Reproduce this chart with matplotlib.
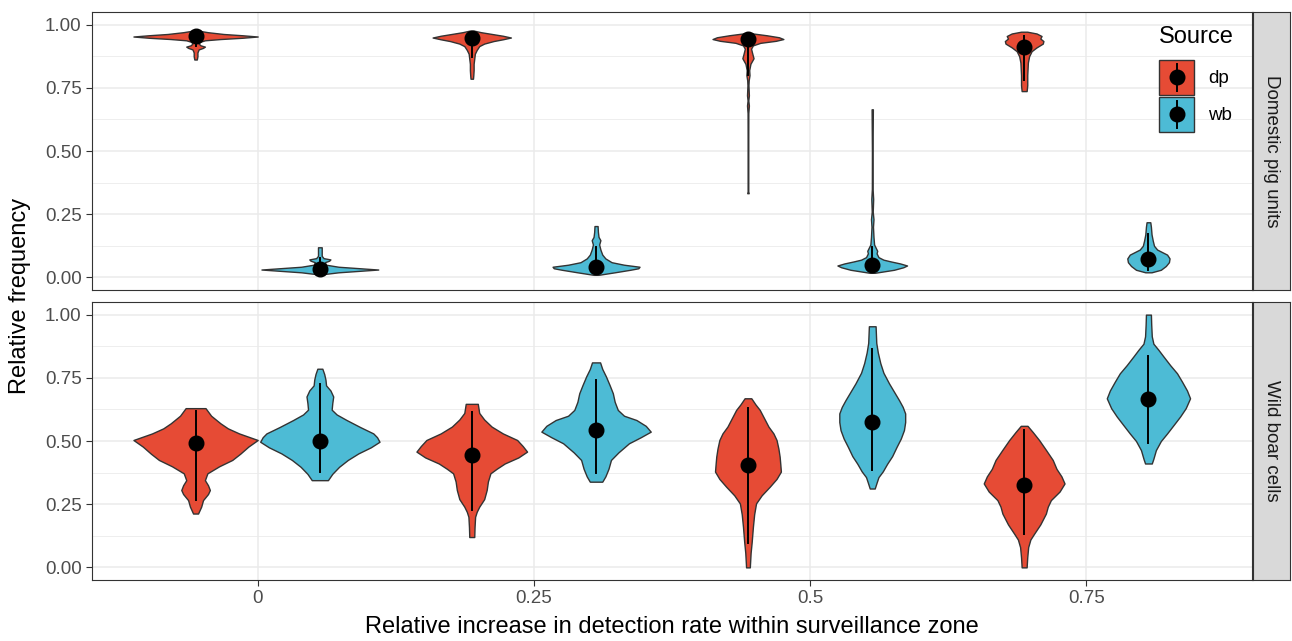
import matplotlib
matplotlib.use("Agg")
import matplotlib.pyplot as plt
from matplotlib.patches import Patch, Rectangle
from matplotlib.lines import Line2D
from matplotlib.legend_handler import HandlerBase

plt.rcParams['font.family'] = ['Liberation Sans', 'DejaVu Sans']

# ---------------------------------------------------------------------------
# data
# ---------------------------------------------------------------------------
categories = ["0", "0.25", "0.5", "0.75"]
panels = ["Domestic pig units", "Wild boar cells"]
sources = ["dp", "wb"]
colors = {"dp": "#E64B35", "wb": "#4DBBD5"}

# violin outlines: y levels and relative half-widths (1 = max width)
dom_dp_levels = [
    [0.862, 0.875, 0.89, 0.902, 0.908, 0.913, 0.918, 0.925, 0.932, 0.938, 0.943, 0.948, 0.953, 0.958, 0.963, 0.970, 0.976],
    [0.786, 0.80, 0.82, 0.845, 0.865, 0.885, 0.90, 0.915, 0.925, 0.935, 0.942, 0.949, 0.956, 0.964, 0.970, 0.976],
    [0.333, 0.34, 0.45, 0.55, 0.65, 0.68, 0.70, 0.72, 0.76, 0.78, 0.80, 0.82, 0.845, 0.867, 0.885, 0.905, 0.918, 0.928, 0.936, 0.943, 0.950, 0.958, 0.966],
    [0.737, 0.76, 0.80, 0.85, 0.875, 0.895, 0.91, 0.925, 0.935, 0.945, 0.955, 0.965, 0.972],
]
dom_dp_widths = [
    [0.02, 0.03, 0.03, 0.05, 0.12, 0.15, 0.08, 0.05, 0.07, 0.15, 0.4, 0.75, 1.0, 0.75, 0.45, 0.2, 0.05],
    [0.02, 0.025, 0.03, 0.03, 0.04, 0.05, 0.08, 0.12, 0.2, 0.35, 0.5, 0.63, 0.5, 0.3, 0.15, 0.04],
    [0.012, 0.005, 0.005, 0.005, 0.006, 0.015, 0.006, 0.015, 0.008, 0.012, 0.025, 0.02, 0.04, 0.09, 0.07, 0.05, 0.08, 0.2, 0.45, 0.57, 0.5, 0.3, 0.05],
    [0.04, 0.05, 0.05, 0.06, 0.08, 0.12, 0.2, 0.3, 0.31, 0.26, 0.28, 0.2, 0.05],
]
dom_wb_levels = [
    [0.012, 0.02, 0.026, 0.031, 0.036, 0.042, 0.05, 0.06, 0.066, 0.071, 0.076, 0.085, 0.10, 0.119],
    [0.010, 0.02, 0.03, 0.036, 0.042, 0.05, 0.06, 0.075, 0.09, 0.11, 0.13, 0.147, 0.16, 0.18, 0.203],
    [0.018, 0.03, 0.04, 0.047, 0.055, 0.063, 0.07, 0.08, 0.095, 0.105, 0.115, 0.13, 0.16, 0.2, 0.23, 0.26, 0.31, 0.35, 0.5, 0.665],
    [0.02, 0.03, 0.045, 0.06, 0.075, 0.09, 0.10, 0.11, 0.125, 0.145, 0.17, 0.2, 0.218],
]
dom_wb_widths = [
    [0.03, 0.3, 0.65, 0.94, 0.65, 0.3, 0.1, 0.08, 0.15, 0.17, 0.06, 0.03, 0.03, 0.03],
    [0.04, 0.3, 0.55, 0.68, 0.7, 0.45, 0.25, 0.15, 0.1, 0.07, 0.05, 0.07, 0.04, 0.03, 0.025],
    [0.04, 0.35, 0.5, 0.56, 0.45, 0.3, 0.18, 0.1, 0.07, 0.08, 0.06, 0.03, 0.02, 0.012, 0.02, 0.008, 0.015, 0.006, 0.005, 0.01],
    [0.05, 0.2, 0.28, 0.33, 0.34, 0.3, 0.22, 0.14, 0.09, 0.07, 0.05, 0.04, 0.03],
]
wild_dp_levels = [
    [0.213, 0.24, 0.266, 0.29, 0.306, 0.325, 0.345, 0.372, 0.40, 0.425, 0.45, 0.478, 0.504, 0.53, 0.55, 0.57, 0.60, 0.63],
    [0.120, 0.16, 0.200, 0.22, 0.240, 0.27, 0.306, 0.34, 0.372, 0.39, 0.411, 0.435, 0.458, 0.48, 0.504, 0.53, 0.557, 0.585, 0.611, 0.647],
    [0.0, 0.058, 0.10, 0.161, 0.21, 0.253, 0.285, 0.319, 0.35, 0.379, 0.41, 0.438, 0.47, 0.504, 0.53, 0.557, 0.59, 0.623, 0.645, 0.669],
    [0.0, 0.04, 0.080, 0.11, 0.133, 0.17, 0.213, 0.24, 0.266, 0.30, 0.332, 0.36, 0.39, 0.425, 0.465, 0.504, 0.535, 0.560],
]
wild_dp_widths = [
    [0.04, 0.09, 0.12, 0.2, 0.23, 0.2, 0.15, 0.19, 0.38, 0.59, 0.72, 0.85, 1.0, 0.7, 0.52, 0.40, 0.25, 0.16],
    [0.04, 0.045, 0.054, 0.08, 0.12, 0.2, 0.24, 0.26, 0.30, 0.4, 0.53, 0.75, 0.89, 0.82, 0.73, 0.5, 0.32, 0.2, 0.12, 0.097],
    [0.03, 0.043, 0.06, 0.08, 0.1, 0.13, 0.22, 0.35, 0.46, 0.53, 0.52, 0.51, 0.49, 0.46, 0.41, 0.33, 0.26, 0.19, 0.12, 0.054],
    [0.04, 0.05, 0.065, 0.1, 0.16, 0.26, 0.35, 0.38, 0.43, 0.57, 0.65, 0.6, 0.52, 0.46, 0.35, 0.24, 0.14, 0.054],
]
wild_wb_levels = [
    [0.345, 0.37, 0.398, 0.425, 0.451, 0.475, 0.497, 0.515, 0.530, 0.555, 0.583, 0.605, 0.624, 0.65, 0.676, 0.70, 0.72, 0.743, 0.765, 0.786],
    [0.339, 0.36, 0.39, 0.425, 0.455, 0.491, 0.515, 0.537, 0.56, 0.583, 0.60, 0.623, 0.655, 0.689, 0.72, 0.755, 0.785, 0.811],
    [0.312, 0.335, 0.357, 0.38, 0.41, 0.44, 0.476, 0.51, 0.543, 0.575, 0.609, 0.635, 0.662, 0.695, 0.728, 0.77, 0.808, 0.85, 0.888, 0.954],
    [0.411, 0.43, 0.464, 0.50, 0.530, 0.565, 0.597, 0.63, 0.669, 0.70, 0.735, 0.768, 0.80, 0.835, 0.861, 0.885, 0.914, 0.96, 1.0],
]
wild_wb_widths = [
    [0.13, 0.2, 0.31, 0.45, 0.62, 0.82, 0.96, 0.92, 0.86, 0.65, 0.43, 0.27, 0.19, 0.2, 0.215, 0.17, 0.1, 0.09, 0.07, 0.04],
    [0.1, 0.15, 0.2, 0.24, 0.36, 0.53, 0.72, 0.88, 0.8, 0.65, 0.45, 0.35, 0.3, 0.27, 0.22, 0.16, 0.1, 0.065],
    [0.04, 0.07, 0.1, 0.17, 0.24, 0.32, 0.39, 0.46, 0.51, 0.53, 0.53, 0.49, 0.43, 0.35, 0.27, 0.18, 0.13, 0.09, 0.065, 0.054],
    [0.054, 0.08, 0.12, 0.2, 0.30, 0.41, 0.51, 0.6, 0.67, 0.62, 0.54, 0.46, 0.35, 0.24, 0.16, 0.08, 0.054, 0.045, 0.04],
]

# point ranges: median and interval
dom_dp_mid = [0.955, 0.947, 0.943, 0.912]
dom_dp_lo = [0.915, 0.87, 0.80, 0.78]
dom_dp_hi = [0.972, 0.97, 0.965, 0.955]
dom_wb_mid = [0.035, 0.040, 0.047, 0.0735]
dom_wb_lo = [0.015, 0.015, 0.02, 0.03]
dom_wb_hi = [0.075, 0.12, 0.12, 0.17]
wild_dp_mid = [0.491, 0.444, 0.407, 0.325]
wild_dp_lo = [0.266, 0.226, 0.098, 0.133]
wild_dp_hi = [0.62, 0.616, 0.632, 0.544]
wild_wb_mid = [0.50, 0.544, 0.577, 0.665]
wild_wb_lo = [0.378, 0.372, 0.384, 0.491]
wild_wb_hi = [0.727, 0.742, 0.865, 0.838]

violins = {
    (0, "dp"): (dom_dp_levels, dom_dp_widths, dom_dp_mid, dom_dp_lo, dom_dp_hi),
    (0, "wb"): (dom_wb_levels, dom_wb_widths, dom_wb_mid, dom_wb_lo, dom_wb_hi),
    (1, "dp"): (wild_dp_levels, wild_dp_widths, wild_dp_mid, wild_dp_lo, wild_dp_hi),
    (1, "wb"): (wild_wb_levels, wild_wb_widths, wild_wb_mid, wild_wb_lo, wild_wb_hi),
}

# ---------------------------------------------------------------------------
# figure
# ---------------------------------------------------------------------------
W, H = 1292, 641
fig = plt.figure(figsize=(W / 100, H / 100), dpi=100)

dodge = {"dp": -0.225, "wb": 0.225}
half_w = 0.225
grid_c = "#EBEBEB"
border_c = "#333333"
dot_ms = 10.5

panel_px = [(12, 290), (302, 580)]   # top / bottom pixel rows
axes = []
for i, (t, b) in enumerate(panel_px):
    ax = fig.add_axes([92 / W, 1 - b / H, 1160 / W, (b - t) / H])
    ax.set_xlim(-0.6, 3.6)
    ax.set_ylim(-0.05, 1.05)
    ax.set_yticks([0, 0.25, 0.5, 0.75, 1.0])
    ax.set_yticklabels(["0.00", "0.25", "0.50", "0.75", "1.00"])
    ax.set_yticks([0.125, 0.375, 0.625, 0.875], minor=True)
    ax.set_xticks(range(len(categories)))
    ax.grid(True, which="major", color=grid_c, lw=1.1, zorder=0)
    ax.grid(True, which="minor", axis="y", color=grid_c, lw=0.6, zorder=0)
    ax.set_axisbelow(True)
    for s in ax.spines.values():
        s.set_color(border_c)
        s.set_linewidth(0.8)
    ax.tick_params(axis="y", which="major", length=4.5, color=border_c,
                   labelsize=13.5, labelcolor="#4D4D4D", pad=3)
    ax.tick_params(axis="y", which="minor", length=0)
    if i == 0:
        ax.tick_params(axis="x", length=0, labelbottom=False)
    else:
        ax.set_xticklabels(categories)
        ax.tick_params(axis="x", length=4.5, color=border_c, labelsize=13.5,
                       labelcolor="#4D4D4D", pad=3)

    for src in sources:
        lv_all, w_all, mid, lo, hi = violins[(i, src)]
        for k in range(len(categories)):
            xc = k + dodge[src]
            ws = [w * half_w for w in w_all[k]]
            ax.fill_betweenx(lv_all[k], [xc - w for w in ws], [xc + w for w in ws],
                             fc=colors[src], ec=border_c, lw=1.0, zorder=2)
            ax.plot([xc, xc], [lo[k], hi[k]], color="black", lw=1.4, zorder=3)
            ax.plot(xc, mid[k], "o", color="black", ms=dot_ms, zorder=4)

    # facet strip
    sax = fig.add_axes([1253 / W, 1 - b / H, 37 / W, (b - t) / H])
    sax.set_xticks([])
    sax.set_yticks([])
    sax.set_facecolor("#D9D9D9")
    for s in sax.spines.values():
        s.set_color(border_c)
        s.set_linewidth(0.8)
    sax.text(0.5, 0.5, panels[i], rotation=-90, ha="center", va="center",
             fontsize=13.5, color="#1A1A1A", transform=sax.transAxes)
    axes.append(ax)


# legend key: filled box with a point range drawn through it
class KeyHandler(HandlerBase):
    def create_artists(self, legend, orig_handle, xdescent, ydescent,
                       width, height, fontsize, trans):
        x0, y0 = -xdescent, -ydescent
        cx, cy = x0 + width / 2, y0 + height / 2
        box = Rectangle((x0, y0), width, height, fc=orig_handle.get_facecolor(),
                        ec=border_c, lw=1.0, transform=trans)
        rng = Line2D([cx, cx], [y0 + 3, y0 + height - 3], color="black",
                     lw=1.4, transform=trans)
        dot = Line2D([cx], [cy], marker="o", ms=dot_ms, color="black",
                     ls="none", transform=trans)
        return [box, rng, dot]


handles = [Patch(fc=colors[src]) for src in sources]
leg = axes[0].legend(handles, sources, title="Source", loc="upper left",
                     bbox_to_anchor=(1159 / W, 1 - 26 / H),
                     bbox_transform=fig.transFigure, frameon=False,
                     handler_map={Patch: KeyHandler()},
                     fontsize=13.5, title_fontsize=17, handlelength=1.87,
                     handleheight=2.5, handletextpad=0.75, labelspacing=0.1,
                     borderaxespad=0, borderpad=0)
leg._legend_box.align = "left"
leg._legend_box.sep = 8.5

fig.text(20 / W, 1 - 296 / H, "Relative frequency", rotation=90,
         ha="center", va="center", fontsize=17, color="black")
fig.text(672 / W, 1 - 627 / H,
         "Relative increase in detection rate within surveillance zone",
         ha="center", va="center", fontsize=17, color="black")

fig.savefig("out.png", dpi=100)
